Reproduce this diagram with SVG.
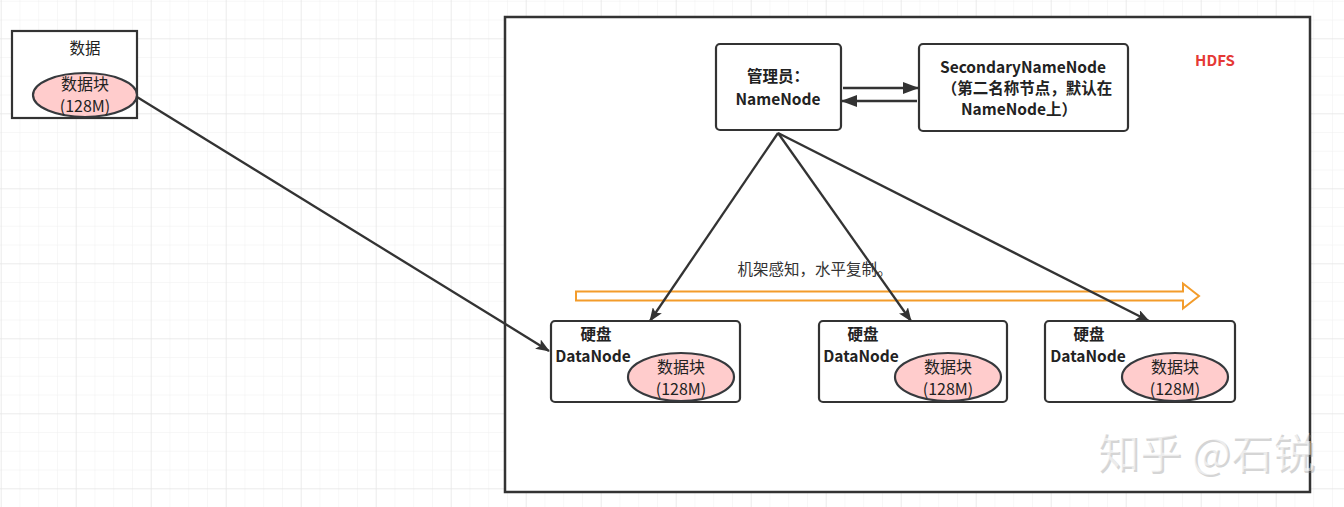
<svg xmlns="http://www.w3.org/2000/svg" width="1344" height="507" viewBox="0 0 1344 507">
<style>
.box{fill:#fff;stroke:#333;stroke-width:2.2}
.ell{fill:#ffcccc;stroke:#36393d;stroke-width:2.2}
.t{font-family:"Microsoft YaHei","Noto Sans CJK SC","Liberation Sans",sans-serif;font-size:15.5px;fill:#222;text-anchor:middle}
.e{font-size:16px}
.b{font-weight:bold}
.conn{stroke:#333;stroke-width:2.3;fill:none}
</style>
<defs>
<pattern id="minor" patternUnits="userSpaceOnUse" x="0.7" y="0.8" width="18.75" height="18.75">
<path d="M0 0H18.75M0 0V18.75" fill="none" stroke="#f0f0f0" stroke-width="1"/>
</pattern>
<pattern id="major" patternUnits="userSpaceOnUse" x="0.7" y="38.3" width="75" height="75">
<path d="M0 0H75M0 0V75" fill="none" stroke="#e2e2e2" stroke-width="1"/>
</pattern>
<marker id="ah" viewBox="0 0 14 11" refX="13" refY="5.5" markerWidth="14" markerHeight="11" orient="auto" markerUnits="userSpaceOnUse">
<path d="M0 0L14 5.5L0 11L3 5.5z" fill="#333"/>
</marker>
<marker id="ah2" viewBox="0 0 16 12" refX="15" refY="6" markerWidth="16" markerHeight="12" orient="auto" markerUnits="userSpaceOnUse">
<path d="M0 0L16 6L0 12z" fill="#333"/>
</marker>
</defs>
<rect width="1344" height="507" fill="#fff"/>
<rect width="1344" height="507" fill="url(#minor)"/>
<rect width="1344" height="507" fill="url(#major)"/>

<g id="hdfs">
<rect x="505" y="17" width="805" height="475" fill="#fff" stroke="#333" stroke-width="2.5"/>
<text x="1215" y="66" class="t b" style="fill:#e53935;font-size:15px">HDFS</text>
</g>

<g id="data">
<rect class="box" x="12" y="31" width="125" height="87"/>
<text class="t" x="85" y="54">数据</text>
<ellipse class="ell" cx="85" cy="95" rx="52" ry="22"/>
<text class="t e" x="85" y="90">数据块</text>
<text class="t e" x="85" y="112">(128M)</text>
</g>

<g id="namenode">
<rect class="box" x="716" y="44" width="125" height="86" rx="4"/>
<text class="t b" x="778" y="82">管理员：</text>
<text class="t b" x="778" y="105">NameNode</text>
</g>

<g id="secondary">
<rect class="box" x="919" y="44" width="209" height="87" rx="4"/>
<text class="t b" x="1023" y="73">SecondaryNameNode</text>
<text class="t b" x="1027" y="94">（第二名称节点，默认在</text>
<text class="t b" x="1019" y="115">NameNode上）</text>
</g>

<g id="replication">
<path d="M576 291.5H1183V283.5L1199 296L1183 308.5V300.5H576Z" fill="#fff" stroke="#f39c2b" stroke-width="2"/>
<text class="t" x="815" y="275" style="font-size:15.5px;fill:#333">机架感知，水平复制。</text>
</g>

<g id="datanode1">
<rect class="box" x="551" y="321" width="189" height="81" rx="4"/>
<text class="t b" x="596" y="340">硬盘</text>
<text class="t b" x="593" y="362">DataNode</text>
<ellipse class="ell" cx="681" cy="377" rx="53" ry="24"/>
<text class="t e" x="681" y="373">数据块</text>
<text class="t e" x="681" y="395">(128M)</text>
</g>

<g id="datanode2">
<rect class="box" x="819" y="321" width="188" height="81" rx="4"/>
<text class="t b" x="863" y="340">硬盘</text>
<text class="t b" x="861" y="362">DataNode</text>
<ellipse class="ell" cx="948" cy="377" rx="53" ry="24"/>
<text class="t e" x="948" y="373">数据块</text>
<text class="t e" x="948" y="395">(128M)</text>
</g>

<g id="datanode3">
<rect class="box" x="1045" y="321" width="190" height="81" rx="4"/>
<text class="t b" x="1089" y="340">硬盘</text>
<text class="t b" x="1088" y="362">DataNode</text>
<ellipse class="ell" cx="1175" cy="377" rx="53" ry="24"/>
<text class="t e" x="1175" y="373">数据块</text>
<text class="t e" x="1175" y="395">(128M)</text>
</g>

<g id="connectors">
<line class="conn" x1="137" y1="97" x2="549" y2="351" marker-end="url(#ah)"/>
<line class="conn" x1="843" y1="88" x2="918" y2="88" marker-end="url(#ah2)"/>
<line class="conn" x1="917" y1="101" x2="842" y2="101" marker-end="url(#ah2)"/>
<line class="conn" x1="778" y1="133" x2="650" y2="321" marker-end="url(#ah)"/>
<line class="conn" x1="778" y1="133" x2="911" y2="321" marker-end="url(#ah)"/>
<line class="conn" x1="778" y1="133" x2="1149" y2="321" marker-end="url(#ah)"/>
</g>

<g id="watermark">
<text x="1099" y="470" style="font-family:'Noto Sans CJK SC',sans-serif;font-size:42px;fill:#888;opacity:0.35">知乎 @石锐</text>
<text x="1097" y="468" style="font-family:'Noto Sans CJK SC',sans-serif;font-size:42px;fill:#fff;opacity:0.55">知乎 @石锐</text>
</g>
</svg>
